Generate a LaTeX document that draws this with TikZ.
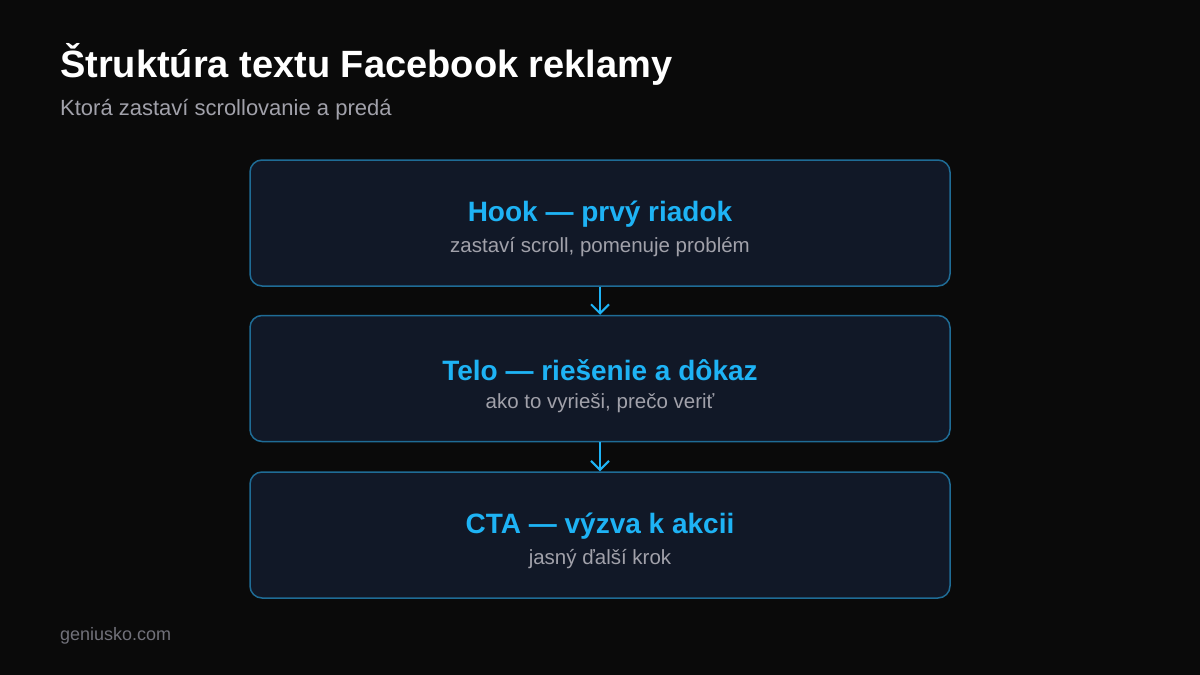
\documentclass[tikz,border=0pt]{standalone}
\usepackage{fontspec}
\setmainfont{Liberation Sans}
\usetikzlibrary{arrows.meta}
\definecolor{bgdark}{HTML}{0A0A0A}
\definecolor{boxfill}{HTML}{111827}
\definecolor{boxline}{HTML}{1F6C96}
\definecolor{skyblue}{HTML}{1EB3F5}
\definecolor{subgray}{HTML}{A1A1AA}
\definecolor{footgray}{HTML}{71717A}
\begin{document}
\begin{tikzpicture}[x=1pt,y=-1pt,
    stage/.style={draw=boxline,line width=1.5pt,fill=boxfill,rounded corners=12pt,
      minimum width=700pt,minimum height=126pt,inner sep=0pt},
    stagehead/.style={text=skyblue,font=\fontsize{28}{32}\selectfont\bfseries},
    stagesub/.style={text=subgray,font=\fontsize{20.5}{24}\selectfont},
    flow/.style={draw=skyblue,line width=2pt,-{Straight Barb[length=9pt,width=18pt,line width=2pt]}}]
  \fill[bgdark] (0,0) rectangle (1200,675);
  \useasboundingbox (0,0) rectangle (1200,675);
  \node[anchor=west,inner sep=0pt,text=white,font=\fontsize{38}{44}\selectfont\bfseries] (title) at (60,64) {Štruktúra textu Facebook reklamy};
  \node[anchor=west,inner sep=0pt,text=subgray,font=\fontsize{22}{26}\selectfont] (subtitle) at (60,110) {Ktorá zastaví scrollovanie a predá};
  \draw
    (600,223) node[stage] (hook){}
    (600,378.5) node[stage] (telo){}
    (600,535) node[stage] (cta){};
  \node[stagehead] (hookhead) at (600,214) {Hook — prvý riadok};
  \node[stagesub] (hooksub) at (600,247) {zastaví scroll, pomenuje problém};
  \node[stagehead] (telohead) at (600,370) {Telo — riešenie a dôkaz};
  \node[stagesub] (telosub) at (600,403) {ako to vyrieši, prečo veriť};
  \node[stagehead] (ctahead) at (600,526) {CTA — výzva k akcii};
  \node[stagesub] (ctasub) at (600,559) {jasný ďalší krok};
  \begin{scope}[flow]
    \draw (hook) to (telo);
    \draw (telo) to (cta);
  \end{scope}
  \node[anchor=west,inner sep=0pt,text=footgray,font=\fontsize{18}{22}\selectfont] (footer) at (60,636) {geniusko.com};
\end{tikzpicture}
\end{document}
